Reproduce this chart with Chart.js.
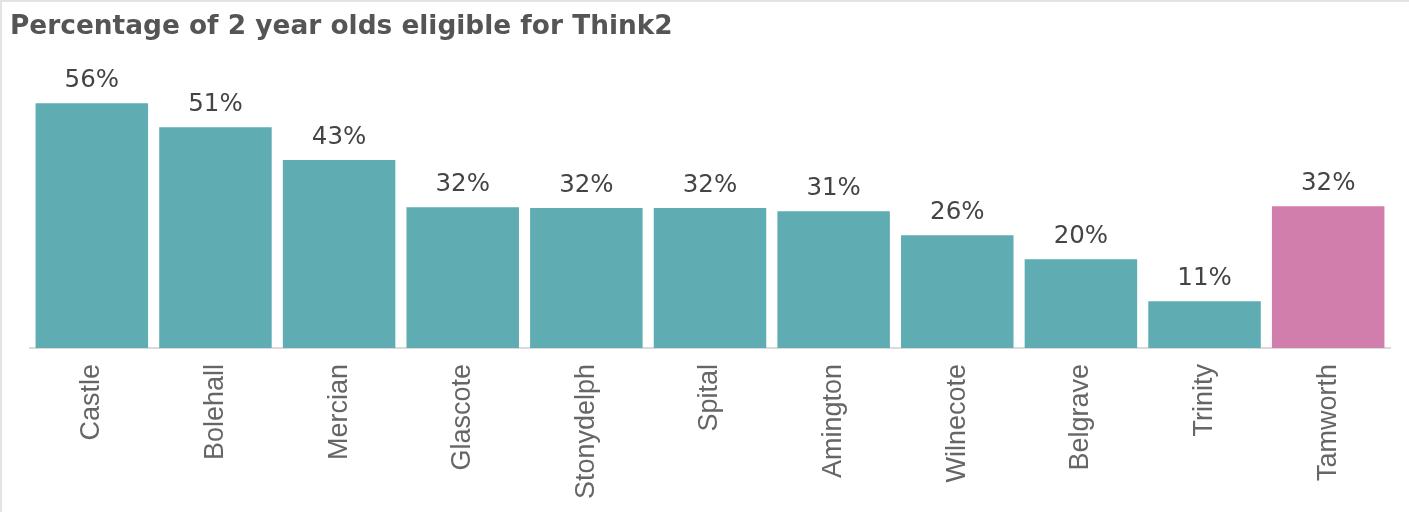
<!DOCTYPE html>
<html>
<head>
<meta charset="utf-8">
<title>Think2 eligibility</title>
<script src="https://cdn.jsdelivr.net/npm/chart.js@4.4.1/dist/chart.umd.min.js"></script>
<style>
  html, body { margin: 0; padding: 0; background: #fff; }
  #box { width: 1409px; height: 512px; }
</style>
</head>
<body>
<div id="box"><canvas id="myChart"></canvas></div>
<script>
// wards + the Tamworth total
const categories = ['Castle', 'Bolehall', 'Mercian', 'Glascote', 'Stonydelph', 'Spital',
                    'Amington', 'Wilnecote', 'Belgrave', 'Trinity', 'Tamworth'];
// percentage eligible
const values = [56, 50.5, 43, 32.2, 32, 32, 31.3, 25.8, 20.3, 10.7, 32.4];
const totalName = 'Tamworth';

const TEAL = '#5fadb3';
const PINK = '#d17eac';

// frame lines at the top and left edge
const frame = {
  id: 'frame',
  beforeDraw(chart) {
    const ctx = chart.ctx;
    ctx.save();
    ctx.fillStyle = '#fff';
    ctx.fillRect(0, 0, chart.width, chart.height);
    ctx.strokeStyle = '#e3e3e3';
    ctx.lineWidth = 2;
    ctx.beginPath();
    ctx.moveTo(1, chart.height);
    ctx.lineTo(1, 1);
    ctx.lineTo(chart.width, 1);
    ctx.stroke();
    ctx.restore();
  }
};

// percentage labels above each bar
const barLabels = {
  id: 'barLabels',
  afterDatasetsDraw(chart) {
    const ctx = chart.ctx;
    const meta = chart.getDatasetMeta(0);
    ctx.save();
    ctx.font = '24.5px "DejaVu Sans"';
    ctx.fillStyle = '#444';
    ctx.textAlign = 'center';
    ctx.textBaseline = 'alphabetic';
    meta.data.forEach((bar, i) => {
      ctx.fillText(Math.round(values[i]) + '%', bar.x, bar.y - 16);
    });
    ctx.restore();
  }
};

let ctx = document.getElementById('myChart').getContext('2d');
let chart = new Chart(ctx, {
  type: 'bar',
  data: {
    labels: categories,
    datasets: [{
      data: values,
      backgroundColor: categories.map(c => c === totalName ? PINK : TEAL),
      borderWidth: 0,
      barPercentage: 0.91,
      categoryPercentage: 1
    }]
  },
  options: {
    responsive: true,
    maintainAspectRatio: false,
    animation: false,
    layout: { padding: { left: 10, right: 19, top: 0, bottom: 0 } },
    plugins: {
      legend: { display: false },
      tooltip: { enabled: false },
      title: {
        display: true,
        text: 'Percentage of 2 year olds eligible for Think2',
        align: 'start',
        color: '#555',
        font: { family: 'DejaVu Sans', size: 26.4, weight: 'bold' },
        padding: { top: 11, bottom: 43 }
      }
    },
    scales: {
      x: {
        grid: { display: false, drawTicks: false },
        border: { display: true, color: '#dadada', width: 2 },
        ticks: {
          color: '#666',
          font: { family: 'Liberation Sans', size: 27 },
          minRotation: 90,
          maxRotation: 90,
          padding: 16,
          autoSkip: false
        },
        afterFit(scale) { scale.height = 164; }
      },
      y: {
        min: 0,
        max: 60,
        grid: { display: false, drawTicks: false },
        border: { display: false },
        ticks: { display: false },
        afterFit(scale) { scale.width = 20; }
      }
    }
  },
  plugins: [frame, barLabels]
});
</script>
</body>
</html>
